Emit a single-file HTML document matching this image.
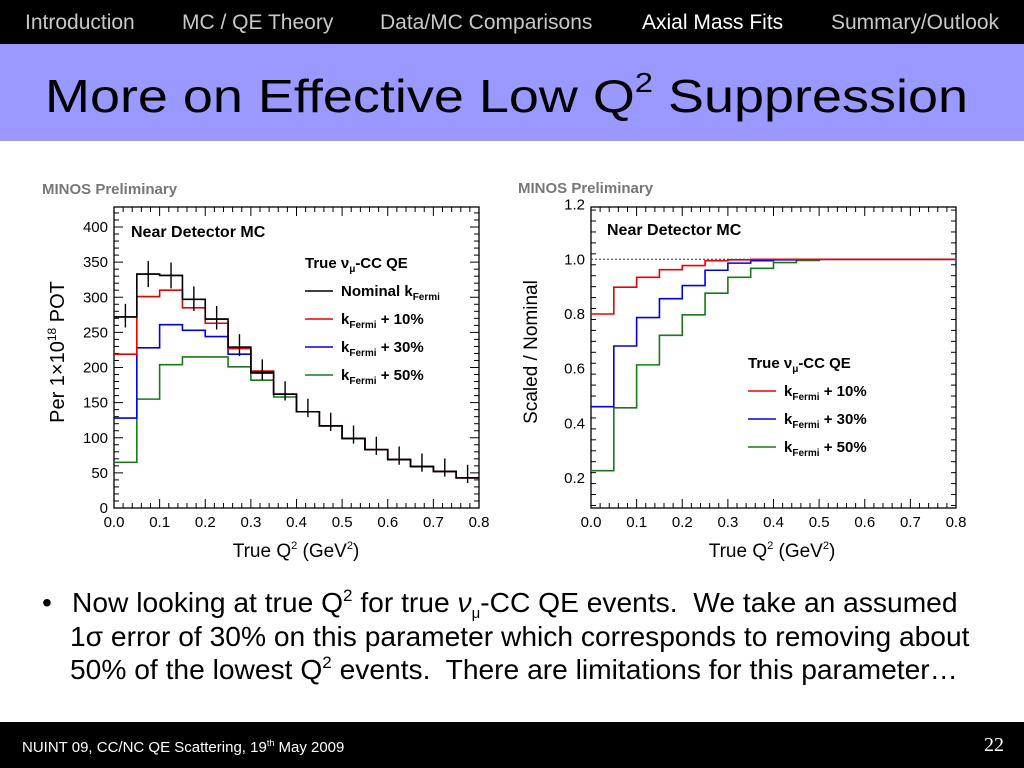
<!DOCTYPE html>
<html><head><meta charset="utf-8">
<style>
body{margin:0;width:1024px;height:768px;overflow:hidden;background:#fff;font-family:"Liberation Sans",sans-serif;position:relative}
.nav{position:absolute;left:0;top:0;width:1024px;height:44px;background:#000}
.nav span{position:absolute;top:11px;font-size:21px;color:#c8c8c8}
.band{position:absolute;left:0;top:44px;width:1024px;height:97px;background:#9999ff}
.foot{position:absolute;left:0;top:722px;width:1024px;height:46px;background:#000;color:#fff}
.bl{position:absolute;font-size:28.2px;line-height:32px;color:#000;white-space:nowrap}
.bl sup{font-size:17px;line-height:0;vertical-align:11px}
.bl sub{font-size:15px;line-height:0;vertical-align:-6px}
</style></head><body>
<div class="nav">
<span style="left:25px">Introduction</span>
<span style="left:182px">MC / QE Theory</span>
<span style="left:380px">Data/MC Comparisons</span>
<span style="left:642px;color:#fff">Axial Mass Fits</span>
<span style="left:831px">Summary/Outlook</span>
</div>
<div class="band">
<svg width="1024" height="97"><text x="45" y="68" font-size="46" font-family="Liberation Sans, sans-serif" textLength="923" lengthAdjust="spacingAndGlyphs">More on Effective Low Q<tspan font-size="28" dy="-20">2</tspan><tspan dy="20"> Suppression</tspan></text></svg>
</div>
<svg id="charts" width="1024" height="450" style="position:absolute;left:0;top:150px"><g transform="translate(0,-150)" id="g"></g></svg>
<div>
<div class="bl" style="left:42px;top:586px">•</div>
<div class="bl" style="left:72px;top:586px">Now looking at true Q<sup>2</sup> for true <i>ν</i><sub>μ</sub>-CC QE events.&nbsp; We take an assumed</div>
<div class="bl" style="left:70px;top:620px">1σ error of 30% on this parameter which corresponds to removing about</div>
<div class="bl" style="left:70px;top:653px">50% of the lowest Q<sup>2</sup> events.&nbsp; There are limitations for this parameter…</div>
</div>
<div class="foot">
<span style="position:absolute;left:22px;top:16px;font-size:15px">NUINT 09, CC/NC QE Scattering, 19<sup style="font-size:9px">th</sup> May 2009</span>
<span style="position:absolute;left:984px;top:12px;font-size:20px;font-family:'Liberation Serif',serif">22</span>
</div>
<script>
const binEdges=[0,0.05,0.1,0.15,0.2,0.25,0.3,0.35,0.4,0.45,0.5,0.55,0.6,0.65,0.7,0.75,0.8];
const dataPts=[272,333,331,297,269,229,193,162,137,117,99,83,69,59,52,43];
const nominal=[272,333,331,297,269,229,193,162,137,117,99,83,69,59,52,43];
const plus10=[219,301,310,285,263,227,195,162,137,117,99,83,69,59,52,43];
const plus30=[128,228,261,253,244,219,192,162,137,117,99,83,69,59,52,43];
const plus50=[65,155,204,215,215,201,182,158,137,117,99,83,69,59,52,43];
const ratio10=[0.80,0.898,0.934,0.962,0.977,0.995,0.998,1,1,1,1,1,1,1,1,1];
const ratio30=[0.461,0.683,0.787,0.856,0.904,0.96,0.986,0.995,0.998,1,1,1,1,1,1,1];
const ratio50=[0.227,0.457,0.614,0.722,0.797,0.876,0.934,0.967,0.988,0.996,1,1,1,1,1,1];
const xTicks=[0,0.1,0.2,0.3,0.4,0.5,0.6,0.7,0.8];
const yTicksL=[0,50,100,150,200,250,300,350,400];
const yTicksR=[0.2,0.4,0.6,0.8,1.0,1.2];
const NS='http://www.w3.org/2000/svg';
const G=document.getElementById('g');
function mk(tag,attrs,parent){const e=document.createElementNS(NS,tag);for(const k in attrs)e.setAttribute(k,attrs[k]);(parent||G).appendChild(e);return e;}
function txt(s,x,y,size,anchor,weight,fill){const t=mk('text',{x:x,y:y,'font-size':size,'text-anchor':anchor||'start','font-weight':weight||'normal',fill:fill||'#000','font-family':'Liberation Sans, sans-serif'});t.innerHTML=s;return t;}
function panel(o){
  const X=v=>o.x0+(v-0)/(0.8)*(o.x1-o.x0);
  const Y=v=>o.yb+(v-o.vb)/(o.vt-o.vb)*(o.yt-o.yb);
  const fr=mk('rect',{x:o.x0,y:o.top,width:o.x1-o.x0,height:o.bot-o.top,fill:'none',stroke:'#000','stroke-width':1.3});
  
  
  for(let i=0;i<=40;i++){const v=i*0.02,xx=X(v),L=(i%5==0)?9:5;
    mk('line',{x1:xx,x2:xx,y1:o.bot,y2:o.bot-L,stroke:'#000'});mk('line',{x1:xx,x2:xx,y1:o.top,y2:o.top+L,stroke:'#000'});}
  xTicks.forEach(v=>{const t=txt(v.toFixed(1),X(v),o.bot+19,15,'middle');});
  const step=o.minor;for(let v=o.vmin;v<=o.vmax+1e-9;v+=step){const yy=Y(v);if(yy<o.top-0.5||yy>o.bot+0.5)continue;const maj=Math.abs(v/o.major-Math.round(v/o.major))<1e-6;const L=maj?9:5;
    mk('line',{x1:o.x0,x2:o.x0+L,y1:yy,y2:yy,stroke:'#000'});mk('line',{x1:o.x1,x2:o.x1-L,y1:yy,y2:yy,stroke:'#000'});}
  o.yticks.forEach(v=>{const t=txt(o.fmt(v),o.x0-6,Y(v)+5,15,'end');});
  return {X,Y};
}
function hist(s,col,X,Y,name){let d='';for(let i=0;i<s.length;i++){const a=X(binEdges[i]),b=X(binEdges[i+1]),y=Y(s[i]);d+=(i==0?'M':'L')+a+','+y+'L'+b+','+y;}
  const p=mk('path',{d:d,fill:'none',stroke:col,'stroke-width':1.6});
  
  }
const A=panel({name:'left-chart',x0:114,x1:479,top:207,bot:508,yb:508,yt:227,vb:0,vt:400,vmin:0,vmax:430,minor:10,major:50,yticks:yTicksL,fmt:v=>String(v)});
hist(plus50,'#1a7a1a',A.X,A.Y,'hist-plus50');
hist(plus30,'#0000ee',A.X,A.Y,'hist-plus30');
hist(plus10,'#ee0000',A.X,A.Y,'hist-plus10');
hist(nominal,'#000',A.X,A.Y,'hist-nominal');
dataPts.forEach((v,i)=>{const c=(binEdges[i]+binEdges[i+1])/2,x=A.X(c),y=A.Y(v);
  const l=mk('path',{d:`M${A.X(binEdges[i])},${y}L${A.X(binEdges[i+1])},${y}M${x},${y-13}L${x},${y+13*Math.max(0.4,v/333)}`,stroke:'#000','stroke-width':1.4,fill:'none'});
  
  });
const B=panel({name:'right-chart',x0:591,x1:956,top:207,bot:508,yb:259.3,yt:314,vb:1.0,vt:0.8,vmin:0.1,vmax:1.2,minor:0.04,major:0.2,yticks:yTicksR,fmt:v=>v.toFixed(1)});
mk('line',{x1:591,x2:956,y1:B.Y(1),y2:B.Y(1),stroke:'#333','stroke-dasharray':'2,2'});
hist(ratio50,'#1a7a1a',B.X,B.Y,'ratio-plus50');
hist(ratio30,'#0000ee',B.X,B.Y,'ratio-plus30');
hist(ratio10,'#ee0000',B.X,B.Y,'ratio-plus10');
txt('MINOS Preliminary',42,194,15,'start','bold','#777');
txt('MINOS Preliminary',518,193,15,'start','bold','#777');
txt('Near Detector MC',131,237,16,'start','bold');
txt('Near Detector MC',607,235,16,'start','bold');
txt('True Q<tspan font-size="11" dy="-8">2</tspan><tspan dy="8"> (GeV</tspan><tspan font-size="11" dy="-8">2</tspan><tspan dy="8">)</tspan>',296,557,19,'middle');
txt('True Q<tspan font-size="11" dy="-8">2</tspan><tspan dy="8"> (GeV</tspan><tspan font-size="11" dy="-8">2</tspan><tspan dy="8">)</tspan>',772,557,19,'middle');
const yl=txt('Per 1×10<tspan font-size="12" dy="-8">18</tspan><tspan dy="8"> POT</tspan>',0,0,20,'middle');yl.setAttribute('transform','translate(64,352) rotate(-90)');
const yr=txt('Scaled / Nominal',0,0,19,'middle');yr.setAttribute('transform','translate(537,352) rotate(-90)');
function legend(x,y,items,title){txt(title,x,y,15,'start','bold');items.forEach((it,i)=>{const yy=y+28+i*28;mk('line',{x1:x,x2:x+28,y1:yy-5,y2:yy-5,stroke:it[0],'stroke-width':1.6});
  const t=txt(it[1],x+36,yy,15,'start','bold');});}
legend(305,268,[['#000','Nominal k<tspan font-size="10" dy="4">Fermi</tspan>'],['#ee0000','k<tspan font-size="10" dy="4">Fermi</tspan><tspan dy="-4"> + 10%</tspan>'],['#0000ee','k<tspan font-size="10" dy="4">Fermi</tspan><tspan dy="-4"> + 30%</tspan>'],['#1a7a1a','k<tspan font-size="10" dy="4">Fermi</tspan><tspan dy="-4"> + 50%</tspan>']],'True ν<tspan font-size="10" dy="4">μ</tspan><tspan dy="-4">-CC QE</tspan>');
legend(748,368,[['#ee0000','k<tspan font-size="10" dy="4">Fermi</tspan><tspan dy="-4"> + 10%</tspan>'],['#0000ee','k<tspan font-size="10" dy="4">Fermi</tspan><tspan dy="-4"> + 30%</tspan>'],['#1a7a1a','k<tspan font-size="10" dy="4">Fermi</tspan><tspan dy="-4"> + 50%</tspan>']],'True ν<tspan font-size="10" dy="4">μ</tspan><tspan dy="-4">-CC QE</tspan>');
</script>
</body></html>
